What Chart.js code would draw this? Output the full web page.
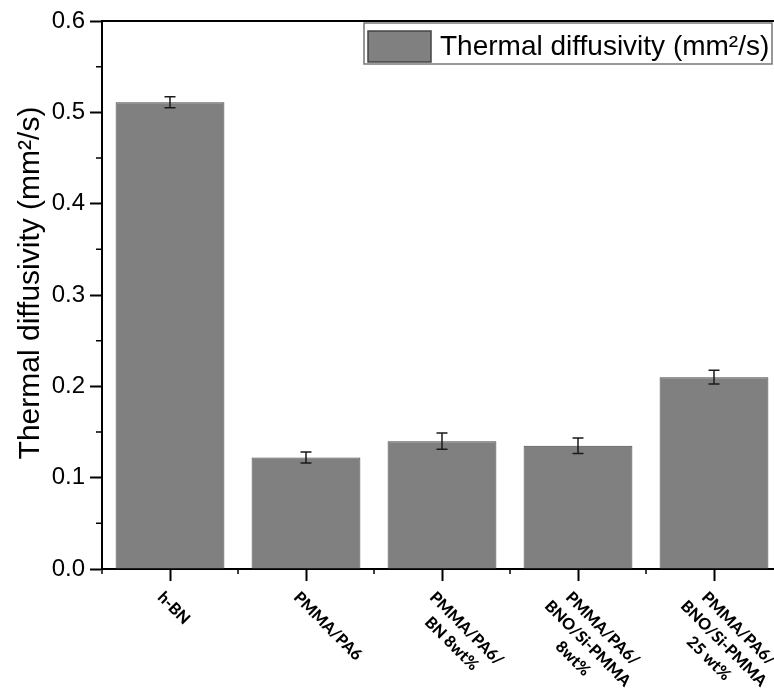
<!DOCTYPE html>
<html>
<head>
<meta charset="utf-8">
<script src="https://cdn.jsdelivr.net/npm/chart.js@4.4.1/dist/chart.umd.min.js"></script>
<style>
  html, body { margin: 0; padding: 0; background: #fff; }
  #wrap { width: 774px; height: 688px; overflow: hidden; position: relative; }
  canvas { display: block; }
</style>
</head>
<body>
<div id="wrap"><canvas id="myChart" width="800" height="688"></canvas></div>
<script>
// categories (multi-line, drawn rotated under the axis)
const categories = [
    ['h-BN'],
    ['PMMA/PA6'],
    ['PMMA/PA6/', 'BN 8wt%'],
    ['PMMA/PA6/', 'BNO/Si-PMMA', '8wt%'],
    ['PMMA/PA6/', 'BNO/Si-PMMA', '25 wt%']
];
const diffusivity = [0.511, 0.122, 0.140, 0.135, 0.210];
const errors = [0.006, 0.006, 0.009, 0.0085, 0.0075];
const yTicks = [0.0, 0.1, 0.2, 0.3, 0.4, 0.5, 0.6];
const seriesLabel = 'Thermal diffusivity (mm\u00B2/s)';

const ARIAL = "'Liberation Sans', Arial, sans-serif";

const extras = {
    id: 'extras',
    afterDatasetsDraw: function (chart) {
        const ctx = chart.ctx;
        const x = chart.scales.x;
        const y = chart.scales.y;

        // error bars
        ctx.save();
        ctx.strokeStyle = '#1a1a1a';
        ctx.lineWidth = 1.5;
        diffusivity.forEach(function (v, i) {
            const cx = x.getPixelForValue(i);
            const top = y.getPixelForValue(v + errors[i]);
            const bot = y.getPixelForValue(v - errors[i]);
            ctx.beginPath();
            ctx.moveTo(cx, top); ctx.lineTo(cx, bot);
            ctx.moveTo(cx - 5.5, top); ctx.lineTo(cx + 5.5, top);
            ctx.moveTo(cx - 5.5, bot); ctx.lineTo(cx + 5.5, bot);
            ctx.stroke();
        });
        ctx.restore();
    },
    afterDraw: function (chart) {
        const ctx = chart.ctx;
        const x = chart.scales.x;
        const y = chart.scales.y;
        const area = chart.chartArea;

        ctx.save();
        // top frame line
        ctx.strokeStyle = '#000';
        ctx.lineWidth = 2;
        ctx.beginPath();
        ctx.moveTo(area.left, area.top);
        ctx.lineTo(area.right, area.top);
        ctx.stroke();

        // minor y ticks
        ctx.lineWidth = 1.5;
        ctx.beginPath();
        for (let i = 0; i < yTicks.length - 1; i++) {
            const py = y.getPixelForValue((yTicks[i] + yTicks[i + 1]) / 2);
            ctx.moveTo(area.left - 6, py);
            ctx.lineTo(area.left, py);
        }
        // minor x ticks at category boundaries
        for (let i = 0; i <= categories.length; i++) {
            const px = x.getPixelForValue(i - 0.5);
            ctx.moveTo(px, area.bottom);
            ctx.lineTo(px, area.bottom + 5);
        }
        ctx.stroke();

        // y axis title
        ctx.fillStyle = '#000';
        ctx.font = '30px ' + ARIAL;
        ctx.textAlign = 'center';
        ctx.textBaseline = 'middle';
        ctx.save();
        ctx.translate(31, (area.top + area.bottom) / 2 - 12);
        ctx.rotate(-Math.PI / 2);
        ctx.fillText(seriesLabel, 0, 0);
        ctx.restore();

        // rotated x labels
        ctx.textAlign = 'left';
        ctx.font = "900 16px Lato, 'Open Sans', sans-serif";
        ctx.textBaseline = 'top';
        const lh = 21;
        categories.forEach(function (lines, i) {
            const cx = x.getPixelForValue(i);
            const widths = lines.map(function (s) { return ctx.measureText(s).width; });
            ctx.save();
            ctx.translate(cx - 4, area.bottom + 20);
            ctx.rotate(Math.PI / 4);
            lines.forEach(function (s, j) {
                const off = (widths[0] - widths[j]) / 2;
                ctx.fillText(s, off, j * lh);
            });
            ctx.restore();
        });

        // legend box
        ctx.strokeStyle = '#777';
        ctx.lineWidth = 1.5;
        ctx.strokeRect(364, 23, 408, 41);
        ctx.fillStyle = '#808080';
        ctx.fillRect(368, 31, 63, 31);
        ctx.strokeStyle = '#444';
        ctx.strokeRect(368, 31, 63, 31);
        ctx.fillStyle = '#000';
        ctx.font = '28px ' + ARIAL;
        ctx.textBaseline = 'alphabetic';
        ctx.fillText(seriesLabel, 440, 55);
        ctx.restore();
    }
};

const ctx = document.getElementById('myChart').getContext('2d');
const myChart = new Chart(ctx, {
    type: 'bar',
    data: {
        labels: categories.map(function (c) { return c.join(' '); }),
        datasets: [{
            label: seriesLabel,
            data: diffusivity,
            backgroundColor: '#808080',
            borderColor: '#4a4a4a',
            borderWidth: 1,
            categoryPercentage: 1.0,
            barPercentage: 0.8
        }]
    },
    options: {
        responsive: false,
        animation: false,
        layout: { padding: { top: 21, right: 18, left: 0, bottom: 0 } },
        plugins: {
            legend: { display: false },
            tooltip: { enabled: false }
        },
        scales: {
            x: {
                afterFit: function (scale) { scale.height = 119; },
                ticks: { display: false },
                grid: {
                    offset: false,
                    drawOnChartArea: false,
                    tickLength: 12,
                    tickWidth: 2,
                    tickColor: '#000'
                },
                border: { color: '#000', width: 2 }
            },
            y: {
                min: 0,
                max: 0.6,
                afterFit: function (scale) { scale.width = 102; },
                afterBuildTicks: function (scale) {
                    scale.ticks = yTicks.map(function (v) { return { value: v }; });
                },
                ticks: {
                    color: '#000',
                    padding: 5,
                    font: { family: ARIAL, size: 24 },
                    callback: function (v) { return Number(v).toFixed(1); }
                },
                grid: {
                    drawOnChartArea: false,
                    tickLength: 12,
                    tickWidth: 2,
                    tickColor: '#000'
                },
                border: { color: '#000', width: 2 }
            }
        }
    },
    plugins: [extras]
});
</script>
</body>
</html>
